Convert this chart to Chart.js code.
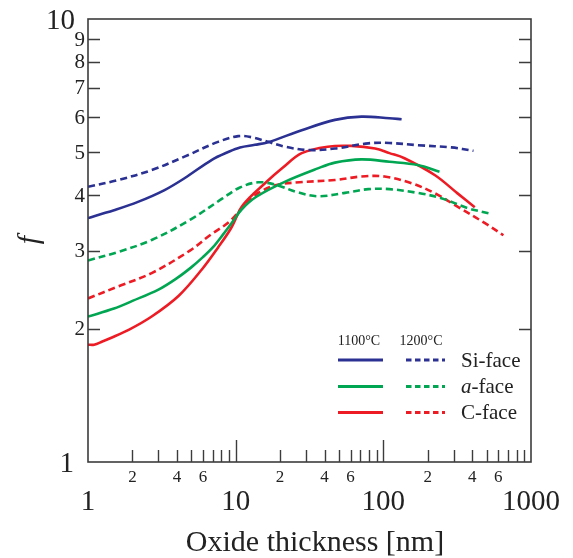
<!DOCTYPE html>
<html>
<head>
<meta charset="utf-8">
<script src="https://cdn.jsdelivr.net/npm/chart.js@4.4.1/dist/chart.umd.min.js"></script>
<style>
  html, body { margin: 0; padding: 0; background: #fff; }
  #wrap { width: 573px; height: 558px; }
</style>
</head>
<body>
<div id="wrap"><canvas id="chart-f" width="573" height="558"></canvas></div>
<script>
//=================================================================
// DATA  (x = oxide thickness [nm], f)
//=================================================================
// Si-face
const siX1100 = [1, 1.05, 1.2, 1.5, 2.2, 3.3, 4.5, 6.9, 8.9, 10.7, 13.5, 16.6, 28, 47, 71, 110, 133];
const siF1100 = [3.55, 3.57, 3.62, 3.70, 3.87, 4.11, 4.37, 4.81, 5.01, 5.13, 5.20, 5.27, 5.61, 5.92, 6.02, 5.97, 5.94];
const siX1200 = [1, 1.6, 2.7, 4.5, 7.6, 10.4, 12.8, 16.6, 21.5, 31, 47, 79, 110, 171, 289, 408];
const siF1200 = [4.18, 4.33, 4.56, 4.89, 5.28, 5.44, 5.41, 5.28, 5.15, 5.06, 5.10, 5.24, 5.25, 5.19, 5.13, 5.04];

// a-face
const aX1100 = [1, 1.5, 2, 3, 4, 5, 6, 7, 8.2, 9.5, 11, 13.8, 21.5, 36, 47, 71, 110, 171, 240];
const aF1100 = [2.13, 2.22, 2.31, 2.45, 2.60, 2.75, 2.90, 3.05, 3.26, 3.48, 3.72, 3.97, 4.29, 4.60, 4.74, 4.82, 4.76, 4.68, 4.52];
const aX1200 = [1, 1.6, 2.7, 4.9, 8.2, 10.6, 14.2, 18.9, 25.8, 36, 55, 79, 110, 171, 247, 375, 540];
const aF1200 = [2.85, 2.98, 3.17, 3.52, 3.94, 4.16, 4.28, 4.22, 4.07, 3.98, 4.05, 4.13, 4.13, 4.05, 3.94, 3.74, 3.63];

// C-face
const cX1100 = [1, 1.1, 1.25, 1.4, 1.9, 2.7, 4.1, 5.9, 7.6, 9.3, 11.2, 16.2, 20.9, 28, 42, 61, 88, 110, 139, 224, 318, 416];
const cF1100 = [1.84, 1.84, 1.87, 1.90, 1.99, 2.13, 2.37, 2.72, 3.05, 3.37, 3.80, 4.29, 4.62, 4.98, 5.15, 5.17, 5.10, 4.98, 4.85, 4.44, 4.04, 3.76];
const cX1200 = [1, 1.6, 2.7, 4.9, 6.7, 9.1, 11.8, 14.6, 18.9, 27, 47, 71, 102, 155, 224, 318, 488, 650];
const cF1200 = [2.34, 2.49, 2.67, 3.00, 3.25, 3.49, 3.84, 4.07, 4.22, 4.28, 4.33, 4.41, 4.41, 4.26, 4.04, 3.77, 3.46, 3.25];

// axes / legend text
const xDecades = [1, 10, 100, 1000];
const xLabelledMinor = [2, 4, 6];
const yTickLabels = [2, 3, 4, 5, 6, 7, 8, 9];
const legendTemps = ['1100°C', '1200°C'];
const legendFaces = ['Si-face', 'a-face', 'C-face'];

const BLUE = '#2b3192';
const GREEN = '#00a651';
const RED = '#ed1c24';
const SERIF = '"Liberation Serif", "Times New Roman", serif';

const pts = (xs, ys) => xs.map((x, i) => ({ x: x, y: ys[i] }));

function line(label, xs, ys, color, dashed) {
    return {
        label: label,
        data: pts(xs, ys),
        borderColor: color,
        borderWidth: 2.6,
        borderDash: dashed ? [7, 4] : [],
        pointRadius: 0,
        fill: false,
        tension: 0.35
    };
}

//=================================================================
// FRAME, TICKS, LABELS, LEGEND
//=================================================================
const framePlugin = {
    id: 'frame',
    afterDraw(chart) {
        const ctx = chart.ctx;
        const a = chart.chartArea;
        const xs = chart.scales.x;
        const ys = chart.scales.y;
        ctx.save();

        // box
        ctx.strokeStyle = '#3c3c3c';
        ctx.lineWidth = 1.6;
        ctx.strokeRect(a.left, a.top, a.right - a.left, a.bottom - a.top);

        // y ticks, left and right, pointing inward
        ctx.lineWidth = 1.4;
        ctx.beginPath();
        yTickLabels.forEach(v => {
            const py = Math.round(ys.getPixelForValue(v)) + 0.5;
            ctx.moveTo(a.left, py); ctx.lineTo(a.left + 12, py);
            ctx.moveTo(a.right, py); ctx.lineTo(a.right - 12, py);
        });
        // x ticks on the bottom axis
        [1, 10, 100].forEach(d => {
            for (let m = 2; m <= 9; m++) {
                const px = Math.round(xs.getPixelForValue(d * m)) + 0.5;
                ctx.moveTo(px, a.bottom); ctx.lineTo(px, a.bottom - 12);
            }
        });
        [10, 100].forEach(d => {
            const px = Math.round(xs.getPixelForValue(d)) + 0.5;
            ctx.moveTo(px, a.bottom); ctx.lineTo(px, a.bottom - 22);
        });
        ctx.stroke();

        ctx.fillStyle = '#222';
        ctx.textBaseline = 'middle';

        // y labels
        ctx.textAlign = 'right';
        ctx.font = '21px ' + SERIF;
        yTickLabels.forEach(v => ctx.fillText(String(v), 85, ys.getPixelForValue(v) + 1));
        ctx.font = '29px ' + SERIF;
        ctx.fillText('10', 75, ys.getPixelForValue(10) + 2);
        ctx.fillText('1', 74, ys.getPixelForValue(1) + 2);

        // x labels
        ctx.textAlign = 'center';
        ctx.font = '17px ' + SERIF;
        [1, 10, 100].forEach(d => {
            xLabelledMinor.forEach(m => ctx.fillText(String(m), xs.getPixelForValue(d * m), 478));
        });
        ctx.font = '29px ' + SERIF;
        xDecades.forEach(d => ctx.fillText(String(d), xs.getPixelForValue(d), 502));

        // axis titles
        ctx.font = '30px ' + SERIF;
        ctx.fillText('Oxide thickness [nm]', 315, 543);
        ctx.save();
        ctx.translate(30, 240);
        ctx.rotate(-Math.PI / 2);
        ctx.font = 'italic 30px ' + SERIF;
        ctx.fillText('f', 0, 0);
        ctx.restore();

        // legend
        ctx.font = '14px ' + SERIF;
        ctx.textAlign = 'center';
        ctx.fillText(legendTemps[0], 359, 341);
        ctx.fillText(legendTemps[1], 421, 341);
        const colors = [BLUE, GREEN, RED];
        const rowsY = [360, 386.5, 412.5];
        legendFaces.forEach((name, i) => {
            const y = rowsY[i];
            ctx.strokeStyle = colors[i];
            ctx.lineWidth = 2.8;
            ctx.setLineDash([]);
            ctx.beginPath(); ctx.moveTo(338, y); ctx.lineTo(383, y); ctx.stroke();
            ctx.setLineDash([5.5, 3.5]);
            ctx.beginPath(); ctx.moveTo(406, y); ctx.lineTo(445, y); ctx.stroke();
            ctx.setLineDash([]);

            ctx.textAlign = 'left';
            ctx.fillStyle = '#222';
            if (name.startsWith('a')) {
                ctx.font = 'italic 21px ' + SERIF;
                ctx.fillText('a', 461, y + 1);
                const w = ctx.measureText('a').width;
                ctx.font = '21px ' + SERIF;
                ctx.fillText(name.slice(1), 461 + w, y + 1);
            } else {
                ctx.font = '21px ' + SERIF;
                ctx.fillText(name, 461, y + 1);
            }
        });
        ctx.restore();
    }
};

//=================================================================
// CHART
//=================================================================
const chartF = document.getElementById('chart-f');

new Chart(chartF, {
    type: 'line',
    data: {
        datasets: [
            line('Si-face 1100°C', siX1100, siF1100, BLUE, false),
            line('Si-face 1200°C', siX1200, siF1200, BLUE, true),
            line('a-face 1100°C', aX1100, aF1100, GREEN, false),
            line('a-face 1200°C', aX1200, aF1200, GREEN, true),
            line('C-face 1100°C', cX1100, cF1100, RED, false),
            line('C-face 1200°C', cX1200, cF1200, RED, true)
        ]
    },
    options: {
        responsive: false,
        animation: false,
        layout: { padding: { left: 88, right: 42, top: 19, bottom: 96 } },
        plugins: { legend: { display: false }, tooltip: { enabled: false } },
        scales: {
            x: { type: 'logarithmic', min: 1, max: 1000, display: false },
            y: { type: 'logarithmic', min: 1, max: 10, display: false }
        }
    },
    plugins: [framePlugin]
});
</script>
</body>
</html>
